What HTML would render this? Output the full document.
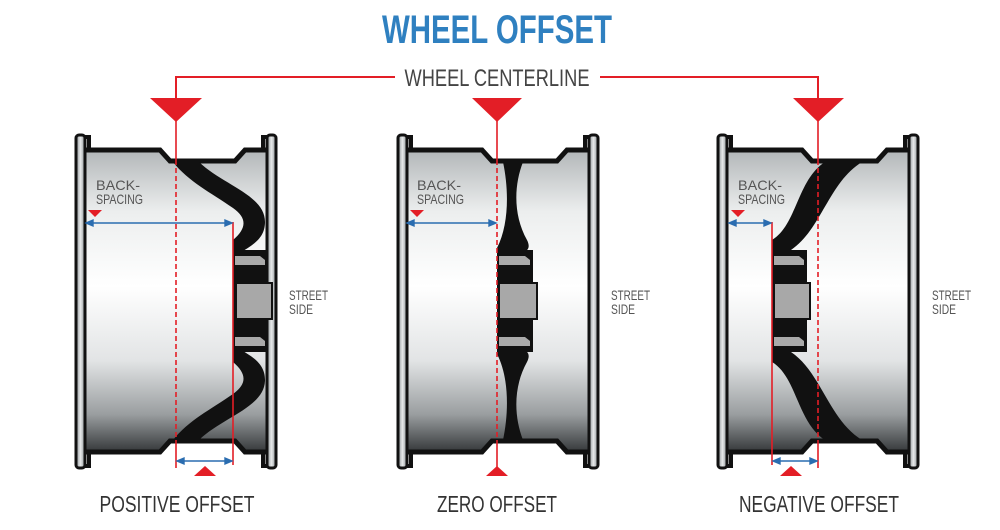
<!DOCTYPE html>
<html><head><meta charset="utf-8"><style>html,body{margin:0;padding:0;background:#fff;}svg{display:block}</style></head>
<body>
<svg width="1000" height="530" viewBox="0 0 1000 530" xmlns="http://www.w3.org/2000/svg" font-family="Liberation Sans, sans-serif">
<defs>
<linearGradient id="bg" x1="0" y1="152" x2="0" y2="450" gradientUnits="userSpaceOnUse">
<stop offset="0" stop-color="#b4b8ba"/><stop offset="0.2" stop-color="#eceeee"/><stop offset="0.45" stop-color="#ffffff"/><stop offset="0.7" stop-color="#e2e4e5"/><stop offset="0.88" stop-color="#9a9ea0"/><stop offset="1" stop-color="#3a3d3f"/>
</linearGradient>
<linearGradient id="fl" x1="0" y1="0" x2="1" y2="0">
<stop offset="0" stop-color="#8a8f92"/><stop offset="0.5" stop-color="#e8eaeb"/><stop offset="1" stop-color="#8a8f92"/>
</linearGradient>
<g id="barrel">
<path d="M8,150 L85,150 L95,161 L160,161 L170,150 L195,150 L195,452 L170,452 L160,441 L95,441 L85,452 L8,452 Z" fill="url(#bg)"/>
<path d="M8,150 L85,150 L95,161 L160,161 L170,150 L195,150" fill="none" stroke="#111" stroke-width="5"/>
<path d="M8,452 L85,452 L95,441 L160,441 L170,452 L195,452" fill="none" stroke="#111" stroke-width="5"/>
<rect x="1" y="135" width="9" height="333" rx="3" fill="url(#fl)" stroke="#111" stroke-width="3"/>
<rect x="192" y="135" width="9" height="333" rx="3" fill="url(#fl)" stroke="#111" stroke-width="3"/>
<path d="M10,137 L14,137 L14,150" fill="none" stroke="#111" stroke-width="4"/>
<path d="M10,466 L14,466 L14,452" fill="none" stroke="#111" stroke-width="4"/>
<path d="M192,137 L188,137 L188,150" fill="none" stroke="#111" stroke-width="4"/>
<path d="M192,466 L188,466 L188,452" fill="none" stroke="#111" stroke-width="4"/>
</g>
</defs>

<text x="497" y="43" text-anchor="middle" font-size="40" font-weight="bold" fill="#2f80c0" textLength="230" lengthAdjust="spacingAndGlyphs">WHEEL OFFSET</text>
<path d="M176,120 L176,77 L395,77 M600,77 L818,77 L818,120" fill="none" stroke="#e31e26" stroke-width="2"/>
<text x="497" y="86" text-anchor="middle" font-size="24" fill="#444" textLength="185" lengthAdjust="spacingAndGlyphs">WHEEL CENTERLINE</text>

<!-- WHEEL 1 positive -->
<g transform="translate(75,0)">
<use href="#barrel"/>
<path d="M98,162 L124,162 C148,185 190,195 190,222 C190,240 175,246 165,253 L158,253 L158,240 C172,228 172,218 158,208 C135,192 114,182 98,162 Z" fill="#111"/>
<path d="M98,440 L124,440 C148,417 190,407 190,380 C190,362 175,356 165,349 L158,349 L158,362 C172,374 172,384 158,394 C135,410 114,420 98,440 Z" fill="#111"/>
<rect x="158" y="250" width="35" height="102" fill="#111"/>
<path d="M160,256 L185,256 L190,260 L190,265 L160,265 Z" fill="#aaa"/>
<path d="M160,337 L185,337 L190,341 L190,346 L160,346 Z" fill="#aaa"/>
<rect x="161" y="283" width="36" height="36" fill="#a8a8a8" stroke="#111" stroke-width="2"/>
</g>
<!-- WHEEL 2 zero -->
<g transform="translate(397,0)">
<use href="#barrel"/>
<path d="M106,162 L126,162 C117,185 116,215 130,240 C135,250 128,253 120,253 L100,253 L100,248 C112,225 112,190 106,162 Z" fill="#111"/>
<path d="M106,440 L126,440 C117,417 116,387 130,362 C135,352 128,349 120,349 L100,349 L100,354 C112,377 112,412 106,440 Z" fill="#111"/>
<rect x="100" y="250" width="36" height="102" fill="#111"/>
<path d="M102,256 L128,256 L133,260 L133,265 L102,265 Z" fill="#aaa"/>
<path d="M102,337 L128,337 L133,341 L133,346 L102,346 Z" fill="#aaa"/>
<rect x="102" y="283" width="38" height="36" fill="#a8a8a8" stroke="#111" stroke-width="2"/>
</g>
<!-- WHEEL 3 negative -->
<g transform="translate(717,0)">
<use href="#barrel"/>
<path d="M108,162 L145,162 C112,182 104,230 74,250 L55,253 L55,240 C80,225 80,180 108,162 Z" fill="#111"/>
<path d="M108,440 L145,440 C112,420 104,372 74,352 L55,349 L55,362 C80,377 80,422 108,440 Z" fill="#111"/>
<rect x="55" y="250" width="35" height="102" fill="#111"/>
<path d="M57,256 L82,256 L87,260 L87,265 L57,265 Z" fill="#aaa"/>
<path d="M57,337 L82,337 L87,341 L87,346 L57,346 Z" fill="#aaa"/>
<rect x="57" y="283" width="36" height="36" fill="#a8a8a8" stroke="#111" stroke-width="2"/>
</g>

<g fill="#e31e26">
<polygon points="150,98 202,98 176,122"/>
<polygon points="472,98 522,98 497,122"/>
<polygon points="793,98 844,98 818,122"/>
<polygon points="88,210 102,210 95,217"/>
<polygon points="410,210 424,210 417,217"/>
<polygon points="731,210 745,210 738,217"/>
<polygon points="194,476 216,476 205,466"/>
<polygon points="486,476 508,476 497,466"/>
<polygon points="780,476 802,476 791,466"/>
</g>
<g stroke="#e31e26" stroke-width="1.6" fill="none">
<path d="M176,120 V160 M176,442 V468"/><path d="M176,160 V442" stroke-dasharray="5,3"/>
<path d="M233,222 V465"/>
<path d="M497,120 V160 M497,442 V468"/><path d="M497,160 V442" stroke-dasharray="5,3"/>
<path d="M818,120 V160 M818,442 V468"/><path d="M818,160 V442" stroke-dasharray="5,3"/>
<path d="M772,222 V465"/>
</g>
<g stroke="#2a6db0" stroke-width="1.4" fill="#2a6db0">
<line x1="88" y1="223" x2="231" y2="223"/><polygon points="86,223 93,220 93,226"/><polygon points="232,223 225,220 225,226"/>
<line x1="178" y1="461" x2="231" y2="461"/><polygon points="177,461 184,458 184,464"/><polygon points="232,461 225,458 225,464"/>
<line x1="409" y1="223" x2="495" y2="223"/><polygon points="407,223 414,220 414,226"/><polygon points="496,223 489,220 489,226"/>
<line x1="730" y1="223" x2="770" y2="223"/><polygon points="729,223 736,220 736,226"/><polygon points="771,223 764,220 764,226"/>
<line x1="774" y1="461" x2="816" y2="461"/><polygon points="773,461 780,458 780,464"/><polygon points="817,461 810,458 810,464"/>
</g>
<g font-size="14" fill="#555">
<text x="96" y="190" textLength="44" lengthAdjust="spacingAndGlyphs">BACK-</text>
<text x="96" y="204" textLength="47" lengthAdjust="spacingAndGlyphs">SPACING</text>
<text x="417" y="190" textLength="44" lengthAdjust="spacingAndGlyphs">BACK-</text>
<text x="417" y="204" textLength="47" lengthAdjust="spacingAndGlyphs">SPACING</text>
<text x="738" y="190" textLength="44" lengthAdjust="spacingAndGlyphs">BACK-</text>
<text x="738" y="204" textLength="47" lengthAdjust="spacingAndGlyphs">SPACING</text>
<text x="289" y="300" textLength="39" lengthAdjust="spacingAndGlyphs">STREET</text>
<text x="289" y="314" textLength="24" lengthAdjust="spacingAndGlyphs">SIDE</text>
<text x="611" y="300" textLength="39" lengthAdjust="spacingAndGlyphs">STREET</text>
<text x="611" y="314" textLength="24" lengthAdjust="spacingAndGlyphs">SIDE</text>
<text x="932" y="300" textLength="39" lengthAdjust="spacingAndGlyphs">STREET</text>
<text x="932" y="314" textLength="24" lengthAdjust="spacingAndGlyphs">SIDE</text>
</g>
<g font-size="23" fill="#333" text-anchor="middle">
<text x="177" y="512" textLength="155" lengthAdjust="spacingAndGlyphs">POSITIVE OFFSET</text>
<text x="497" y="512" textLength="120" lengthAdjust="spacingAndGlyphs">ZERO OFFSET</text>
<text x="819" y="512" textLength="160" lengthAdjust="spacingAndGlyphs">NEGATIVE OFFSET</text>
</g>
</svg>
</body></html>
